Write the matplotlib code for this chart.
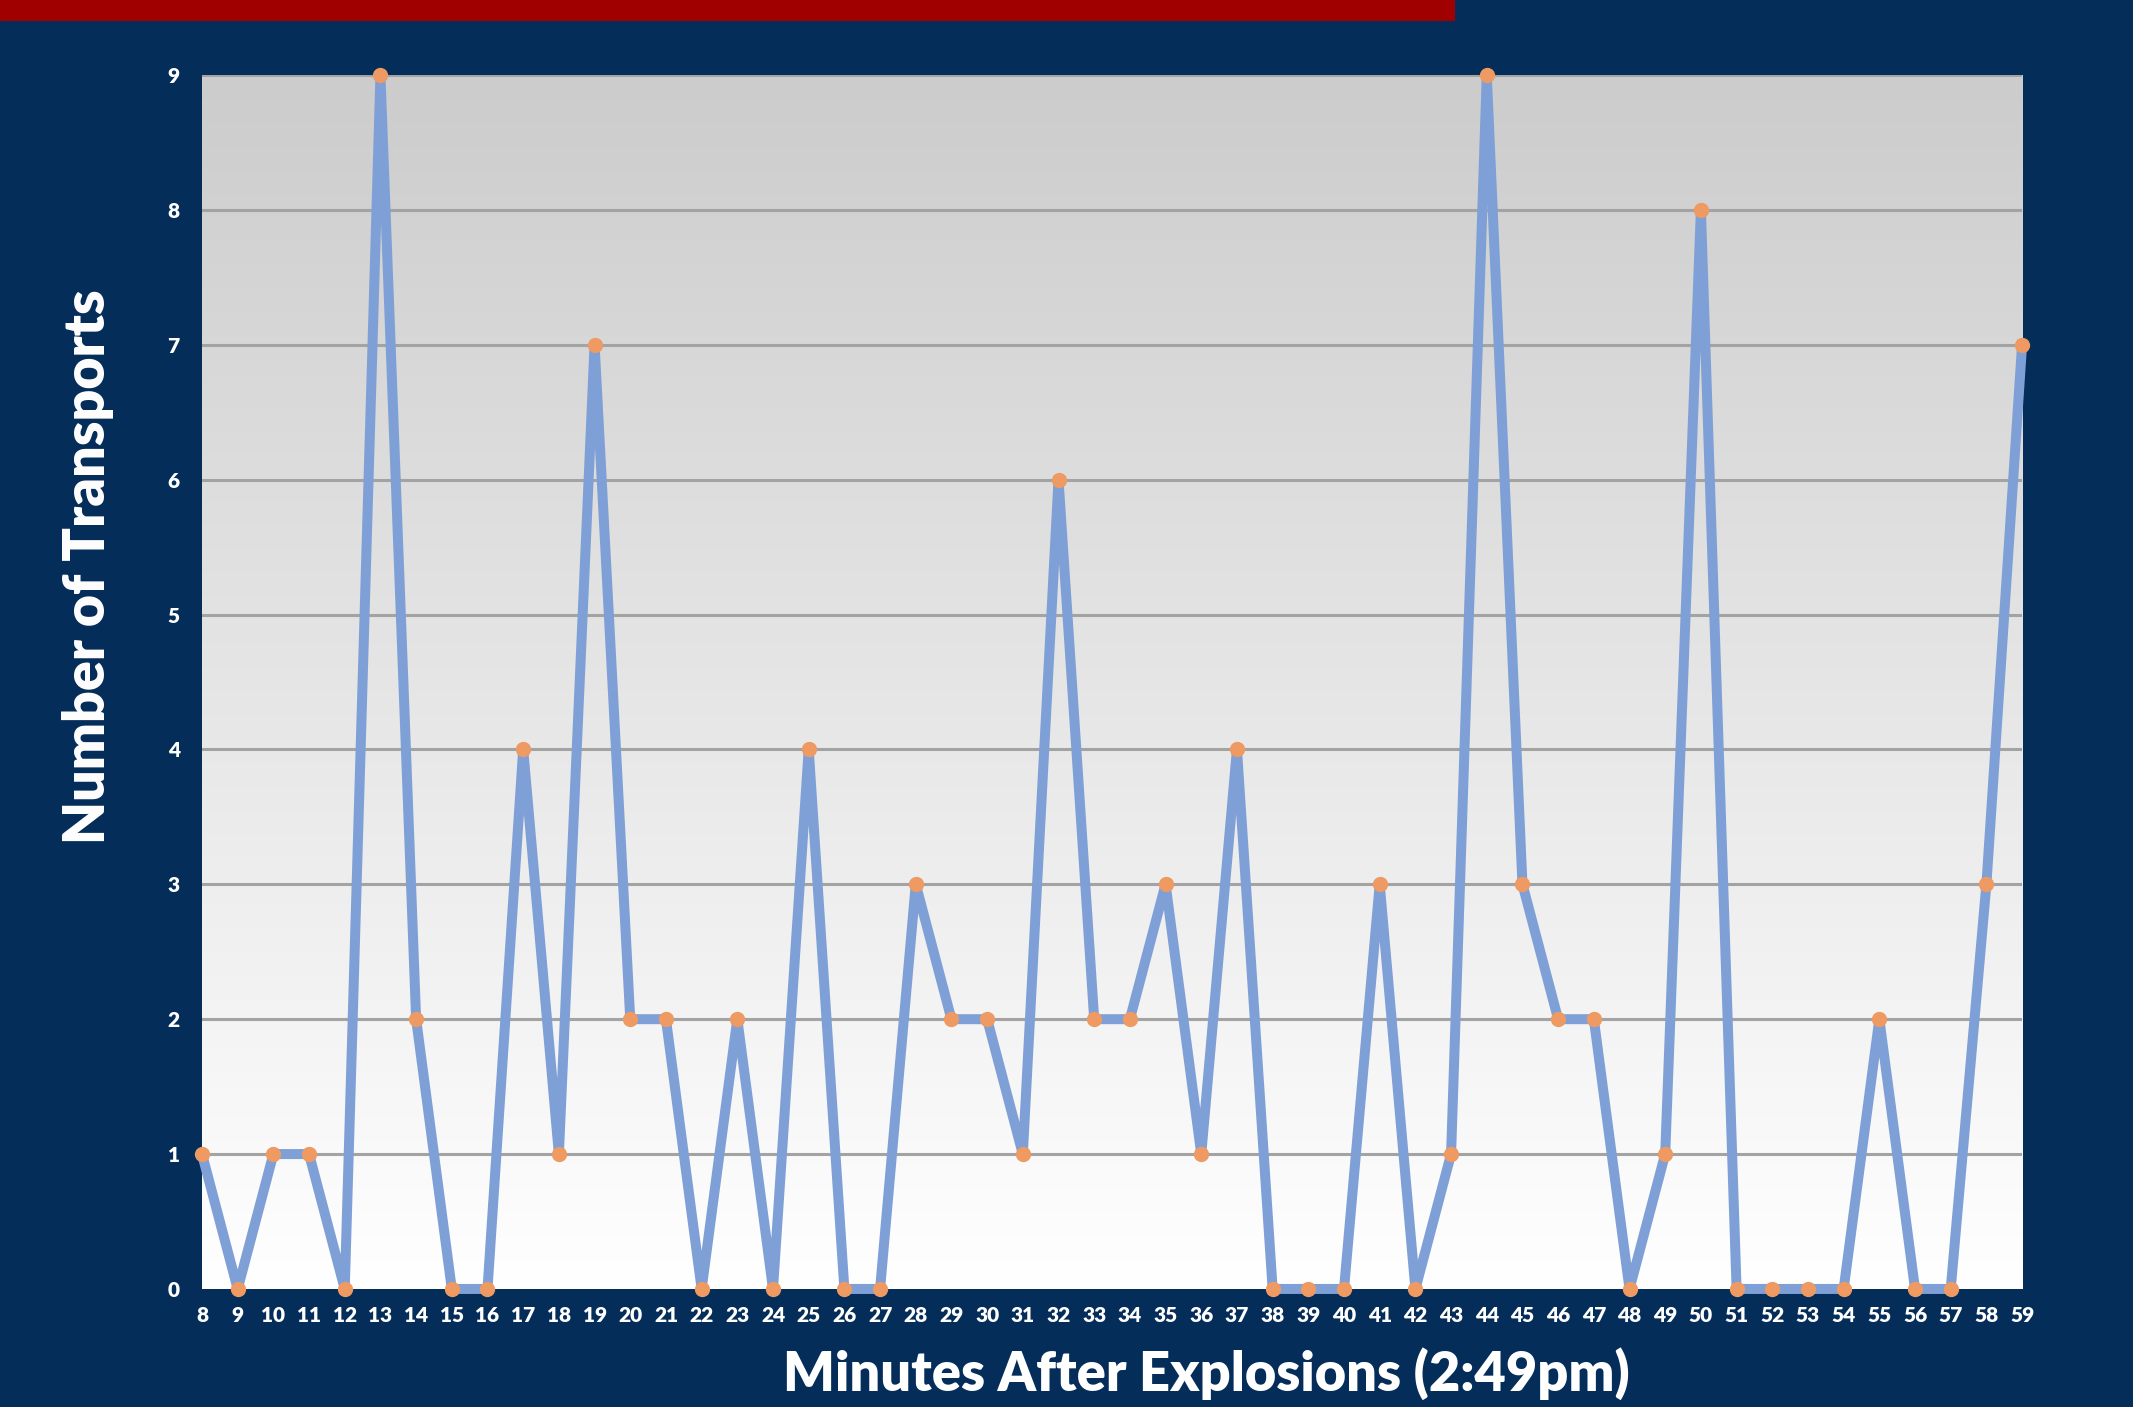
import matplotlib.pyplot as plt
import matplotlib.patches as patches
import numpy as np

BG = "#052d5a"
LINE = "#7fa0d6"
MARK = "#ee9a62"

minutes = list(range(8, 60))
transports = [1, 0, 1, 1, 0, 9, 2, 0, 0, 4, 1, 7, 2, 2, 0, 2, 0, 4, 0, 0,
              3, 2, 2, 1, 6, 2, 2, 3, 1, 4, 0, 0, 0, 3, 0, 1, 9, 3, 2, 2,
              0, 1, 8, 0, 0, 0, 0, 2, 0, 0, 3, 7]
y_ticks = list(range(0, 10))

plt.rcParams["font.family"] = ["Lato", "DejaVu Sans"]
plt.rcParams["font.weight"] = "heavy"

fig = plt.figure(figsize=(21.33, 14.07), dpi=100, facecolor=BG)

# red title strip cut off at the top
fig.patches.append(patches.Rectangle((0, 0.985), 0.682, 0.02, transform=fig.transFigure,
                                     facecolor="#a00000", edgecolor="none"))

ax = fig.add_axes([0.0947, 0.0839, 0.8533, 0.8628])
ax.set_facecolor("white")

# vertical grey gradient behind the plot
grad = np.linspace(1, 0, 256).reshape(-1, 1)
ax.imshow(grad, extent=(8, 59, 0, 9), aspect="auto", origin="upper",
          cmap=plt.matplotlib.colors.LinearSegmentedColormap.from_list("g", ["#ffffff", "#cccccc"]),
          vmin=0, vmax=1, zorder=0)

for v in y_ticks[1:]:
    ax.axhline(v, color="#a3a3a3", lw=2.2, zorder=1)

ax.plot(minutes, transports, color=LINE, lw=7.2, zorder=2, clip_on=False,
        solid_joinstyle="round")
ax.plot(minutes, transports, "o", color=MARK, ms=10, zorder=3, clip_on=False)

ax.set_xlim(8, 59)
ax.set_ylim(0, 9)
ax.set_xticks(minutes)
ax.set_yticks(y_ticks)
ax.tick_params(length=0, colors="white", labelsize=15)
ax.tick_params(axis="x", pad=12)
ax.tick_params(axis="y", pad=16)
for lbl in ax.get_xticklabels() + ax.get_yticklabels():
    lbl.set_fontweight("heavy")
for s in ax.spines.values():
    s.set_visible(False)

fig.text(0.5654, 0.0235, "Minutes After Explosions (2:49pm)", color="white",
         fontsize=39, fontweight="heavy", ha="center", va="center")
fig.text(0.0413, 0.597, "Number of Transports", color="white", rotation=90,
         fontsize=40, fontweight="heavy", ha="center", va="center")

fig.savefig("out.png", dpi=100, facecolor=BG)
